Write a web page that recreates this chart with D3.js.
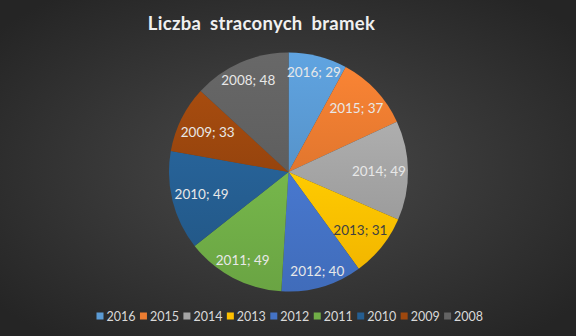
<!DOCTYPE html>
<html><head><meta charset="utf-8">
<script src="https://cdn.jsdelivr.net/npm/d3@7"></script>
<style>html,body{margin:0;padding:0;background:#2a2a2a;}svg{display:block;}</style>
</head><body>
<script>
const title = "Liczba straconych bramek";
const categories = ["2016","2015","2014","2013","2012","2011","2010","2009","2008"];
const values = [29,37,49,31,40,49,49,33,48];
const colors = ["#5B9BD5","#ED7D31","#A5A5A5","#FFC000","#4472C4","#70AD47","#255E91","#9E480E","#636363"];
const labelColors = ["#e8e8e8","#e8e8e8","#e8e8e8","#404040","#e8e8e8","#e8e8e8","#e8e8e8","#e8e8e8","#e8e8e8"];

const W = 576, H = 336;
const svg = d3.select("body").append("svg").attr("width", W).attr("height", H);
const defs = svg.append("defs");
const bg = defs.append("radialGradient").attr("id","bg").attr("cx","50%").attr("cy","50%").attr("r","65%");
bg.append("stop").attr("offset","0%").attr("stop-color","#4a4a4a");
bg.append("stop").attr("offset","100%").attr("stop-color","#252525");
svg.append("rect").attr("width",W).attr("height",H).attr("fill","url(#bg)");

svg.append("text").attr("x", 261.5).attr("y", 30).attr("text-anchor","middle")
  .attr("font-family","Lato, 'Open Sans', sans-serif").attr("font-weight","bold")
  .attr("font-size", 18.5).attr("letter-spacing", 0.3).attr("word-spacing", 4).attr("fill","#f0f0f0")
  .text(title);

const cx = 288.5, cy = 172, r = 119.5;
const data = categories.map((c,i)=>({cat:c, value:values[i], color:colors[i], lc:labelColors[i]}));
const pie = d3.pie().value(d=>d.value).sort(null);
const arcs = pie(data);
const arc = d3.arc().innerRadius(0).outerRadius(r);

data.forEach((d,i)=>{
  const g = defs.append("linearGradient").attr("id","g"+i).attr("x1",0).attr("y1",0).attr("x2",0).attr("y2",1);
  const c = d3.color(d.color);
  g.append("stop").attr("offset","0%").attr("stop-color", c.brighter(0.15));
  g.append("stop").attr("offset","100%").attr("stop-color", c.darker(0.15));
});

const gp = svg.append("g").attr("transform",`translate(${cx},${cy})`);
gp.selectAll("path").data(arcs).join("path")
  .attr("d", arc).attr("fill",(d,i)=>`url(#g${i})`);

const lw = 27, lh = 7;
gp.selectAll("text.lbl").data(arcs).join("text").attr("class","lbl")
  .each(function(d){
    const a = (d.startAngle + d.endAngle)/2;
    const s = Math.sin(a), c = -Math.cos(a);
    const dist = Math.min(0.86*r, r - 2 - (Math.abs(s)*lw + Math.abs(c)*lh));
    d3.select(this).attr("x", s*dist).attr("y", c*dist);
  })
  .attr("text-anchor","middle").attr("dominant-baseline","central")
  .attr("font-family","Lato, 'Open Sans', sans-serif").attr("font-size",13.5)
  .attr("fill", d=>d.data.lc)
  .text(d=>`${d.data.cat}; ${d.data.value}`);

const legend = svg.append("g");
const lx0 = 96.5, step = 43.45, ly = 316;
const items = legend.selectAll("g").data(data).join("g")
  .attr("transform",(d,i)=>`translate(${lx0 + i*step},${ly})`);
items.append("rect").attr("x",0).attr("y",-3.5).attr("width",7).attr("height",7).attr("fill",d=>d.color);
items.append("text").attr("x",10).attr("y",0).attr("dominant-baseline","central")
  .attr("font-family","Lato, 'Open Sans', sans-serif").attr("font-size",12.5).attr("fill","#d9d9d9")
  .text(d=>d.cat);
</script>
</body></html>
